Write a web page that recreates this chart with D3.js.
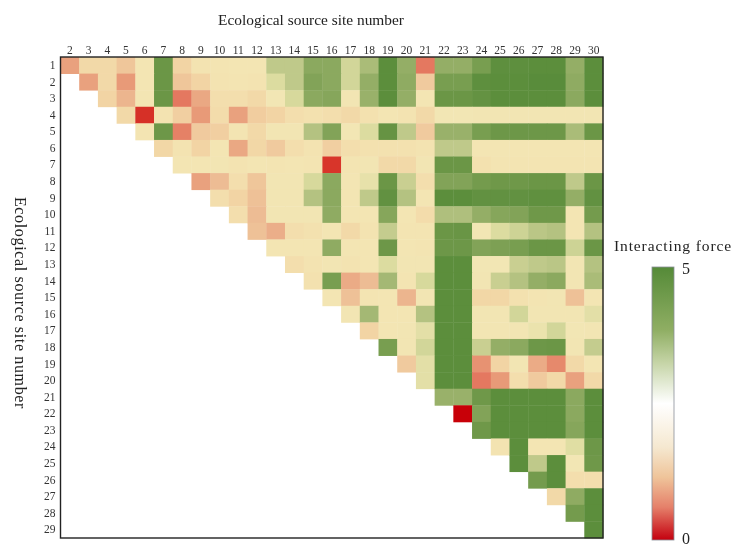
<!DOCTYPE html>
<html>
<head>
<meta charset="utf-8">
<script src="https://cdn.jsdelivr.net/npm/d3@7"></script>
<style>
  html, body { margin: 0; padding: 0; background: #fff; }
  svg { display: block; filter: blur(0.4px); }
  text { font-family: "Liberation Serif", serif; fill: #222; }
  .axis text { font-size: 11.5px; fill: #333; }
  .axis path, .axis line { display: none; }
</style>
</head>
<body>
<svg id="heatmap" width="733" height="547"></svg>
<script>
// site numbers on each axis
var colSites = d3.range(2, 31);
var rowSites = d3.range(1, 30);

// interacting force, one row per source site,
// each row starts at the column right after its own site number
var row1 = [1.6,2.6,2.6,2.2,2.9,4.5,2.5,2.8,2.85,2.9,2.9,3.6,3.6,4.1,4.1,3.4,3.8,4.85,4.0,1.1,4.0,4.0,4.3,4.8,4.8,4.85,4.85,4.0,4.85];
var row2 = [1.6,2.6,1.5,2.9,4.5,2.2,2.5,2.8,2.85,2.8,3.3,3.6,4.2,4.1,3.4,4.0,4.85,4.05,2.3,4.3,4.3,4.8,4.85,4.85,4.9,4.9,4.05,4.85];
var row3 = [2.5,1.9,2.9,4.5,1.1,1.7,2.7,2.7,2.6,3.0,3.35,4.1,4.15,2.95,3.95,4.85,4.0,2.9,4.5,4.5,4.65,4.85,4.85,4.85,4.85,4.1,4.85];
var row4 = [2.6,0.45,2.8,2.4,1.5,2.65,1.6,2.35,2.5,2.7,2.75,2.7,2.6,2.75,2.9,2.8,2.6,3,3,2.95,2.95,2.95,2.95,2.95,2.95,2.95];
var row5 = [2.85,4.45,1.2,2.3,2.4,2.85,2.6,2.95,2.95,3.7,4.2,3,3.3,4.6,3.6,2.3,3.95,3.95,4.3,4.45,4.45,4.45,4.45,3.8,4.5];
var row6 = [2.55,2.8,2.5,2.9,1.7,2.55,2.3,2.7,2.8,2.4,2.7,2.75,2.75,2.75,2.8,3.6,3.6,2.9,2.9,2.9,2.9,2.9,2.9,2.9];
var row7 = [2.9,2.9,2.95,2.8,2.9,2.85,2.9,2.85,0.5,2.85,2.95,2.6,2.6,2.95,4.5,4.5,2.75,2.85,2.85,2.85,2.85,2.85,2.85];
var row8 = [1.6,2.0,2.7,2.2,2.95,2.95,3.35,4.1,2.9,3.15,4.5,3.5,2.7,4.2,4.2,4.35,4.4,4.4,4.5,4.5,3.6,4.5];
var row9 = [2.7,2.5,2.1,2.95,2.95,3.7,4.1,2.9,3.6,4.7,3.7,2.9,4.85,4.85,4.7,4.7,4.7,4.75,4.75,4.0,4.7];
var row10 = [2.7,2.0,2.95,2.95,2.95,4.05,2.9,2.9,4.15,2.9,2.65,3.75,3.75,4.0,4.15,4.2,4.4,4.4,2.9,4.35];
var row11 = [2.1,1.8,2.7,2.75,2.9,2.6,2.8,3.55,2.85,2.85,4.5,4.55,3.0,3.3,3.45,3.65,3.7,2.9,3.7];
var row12 = [2.9,2.9,2.9,4.05,2.9,2.9,4.45,2.9,2.85,4.45,4.45,4.2,4.25,4.3,4.5,4.5,3.45,4.5];
var row13 = [2.7,2.8,2.95,2.8,2.9,3.3,2.95,2.95,4.85,4.85,3,3,3.5,3.6,3.65,2.95,3.7];
var row14 = [2.75,4.3,1.75,2.0,3.85,2.85,3.35,4.85,4.85,2.95,3.5,3.7,4.0,4.1,2.95,3.8];
var row15 = [2.9,2.1,2.85,2.9,1.9,2.95,4.85,4.85,2.55,2.55,2.75,2.85,2.95,2.1,2.9];
var row16 = [2.95,3.85,2.9,2.9,3.7,4.85,4.85,2.95,2.95,3.4,2.95,2.95,2.95,3.2];
var row17 = [2.5,2.9,2.95,3.2,4.85,4.85,2.95,2.95,2.95,3.1,3.4,3.0,2.95];
var row18 = [4.3,2.95,3.4,4.85,4.85,3.5,4.0,4.1,4.45,4.5,2.95,3.55];
var row19 = [2.3,3.2,4.85,4.85,1.4,2.5,2.95,1.75,1.3,2.6,2.9];
var row20 = [3.2,4.85,4.85,1.1,1.5,2.7,2.3,2.6,1.6,2.6];
var row21 = [3.95,3.95,4.4,4.85,4.85,4.85,4.85,4.1,4.85];
var row22 = [0,4.2,4.85,4.85,4.85,4.85,4.1,4.85];
var row23 = [4.4,4.85,4.85,4.85,4.85,4.15,4.85];
var row24 = [2.8,4.85,2.9,2.9,3.25,4.45];
var row25 = [4.85,3.6,4.85,3.0,4.4];
var row26 = [4.35,4.85,2.7,2.7];
var row27 = [2.6,4.05,4.85];
var row28 = [4.35,4.85];
var row29 = [4.85];

var rows = [row1,row2,row3,row4,row5,row6,row7,row8,row9,row10,row11,row12,row13,row14,row15,
            row16,row17,row18,row19,row20,row21,row22,row23,row24,row25,row26,row27,row28,row29];

// colour ramps: one for the cells, one for the colour bar
var cellDomain = [0, 0.5, 1, 1.5, 2, 2.5, 2.8, 3, 3.3, 3.6, 4, 4.4, 5];
var cellColors = ["#c80008", "#d8352a", "#e3705a", "#e89a78", "#edbc94", "#f2d4a4", "#f3e3b1", "#f2e6b4", "#dcdca0", "#bfc98a", "#94ae66", "#6f9849", "#558a38"];
var barStops = [0, 0.12, 0.23, 0.34, 0.5, 0.65, 0.77, 1];
var barColors = ["#c4000f", "#e5806a", "#efc49a", "#f5e8d0", "#ffffff", "#c5d4a6", "#8fae63", "#558a38"];

var svg = d3.select("#heatmap"),
    margin = {top: 57, right: 130, bottom: 9, left: 60.5},
    width = +svg.attr("width") - margin.left - margin.right,
    height = +svg.attr("height") - margin.top - margin.bottom;

var x = d3.scaleBand().domain(colSites).range([0, width]);
var y = d3.scaleBand().domain(rowSites).range([0, height]);
var color = d3.scaleLinear().domain(cellDomain).range(cellColors);

var cells = [];
rows.forEach(function(values, i) {
  values.forEach(function(v, j) {
    cells.push({row: rowSites[i], col: rowSites[i] + 1 + j, value: v});
  });
});

var g = svg.append("g")
    .attr("transform", "translate(" + margin.left + "," + margin.top + ")");

g.selectAll("rect.cell")
    .data(cells)
  .enter().append("rect")
    .attr("class", "cell")
    .attr("x", function(d) { return x(d.col); })
    .attr("y", function(d) { return y(d.row); })
    .attr("width", x.bandwidth() + 0.4)
    .attr("height", y.bandwidth() + 0.4)
    .attr("fill", function(d) { return color(d.value); });

g.append("g")
    .attr("class", "axis")
    .call(d3.axisTop(x).tickSize(0).tickPadding(3));

g.append("g")
    .attr("class", "axis")
    .call(d3.axisLeft(y).tickSize(0).tickPadding(5));

g.append("rect")
    .attr("width", width)
    .attr("height", height)
    .attr("fill", "none")
    .attr("stroke", "#222")
    .attr("stroke-width", 1.4);

svg.append("text")
    .attr("x", 311)
    .attr("y", 25)
    .attr("text-anchor", "middle")
    .style("font-size", "15.4px")
    .text("Ecological source site number");

svg.append("text")
    .attr("transform", "translate(15,303) rotate(90)")
    .attr("text-anchor", "middle")
    .style("font-size", "16px")
    .style("letter-spacing", "0.65px")
    .text("Ecological source site number");

// colour bar
var barX = 652, barW = 22, barTop = 267, barBottom = 540;
var barScale = d3.scaleLinear().domain([0, 5]).range([barBottom, barTop]);

var grad = svg.append("defs").append("linearGradient")
    .attr("id", "forceGradient")
    .attr("x1", 0).attr("y1", 1)
    .attr("x2", 0).attr("y2", 0);

grad.selectAll("stop")
    .data(barStops)
  .enter().append("stop")
    .attr("offset", function(d) { return d; })
    .attr("stop-color", function(d, i) { return barColors[i]; });

svg.append("rect")
    .attr("x", barX)
    .attr("y", barTop)
    .attr("width", barW)
    .attr("height", barBottom - barTop)
    .attr("fill", "url(#forceGradient)")
    .attr("stroke", "#8a9098")
    .attr("stroke-width", 0.8);

var barAxis = svg.append("g")
    .attr("class", "axis")
    .attr("transform", "translate(" + (barX + barW) + ",0)")
    .call(d3.axisRight(barScale).tickValues([0, 5]).tickSize(0).tickPadding(8).tickFormat(d3.format("d")));

barAxis.selectAll("text")
    .style("font-size", "16px")
    .style("fill", "#222")
    .attr("dy", function(d) { return d === 5 ? "6px" : "3px"; });

svg.append("text")
    .attr("x", 673)
    .attr("y", 251)
    .attr("text-anchor", "middle")
    .style("font-size", "15.5px")
    .style("letter-spacing", "0.9px")
    .text("Interacting force");
</script>
</body>
</html>
